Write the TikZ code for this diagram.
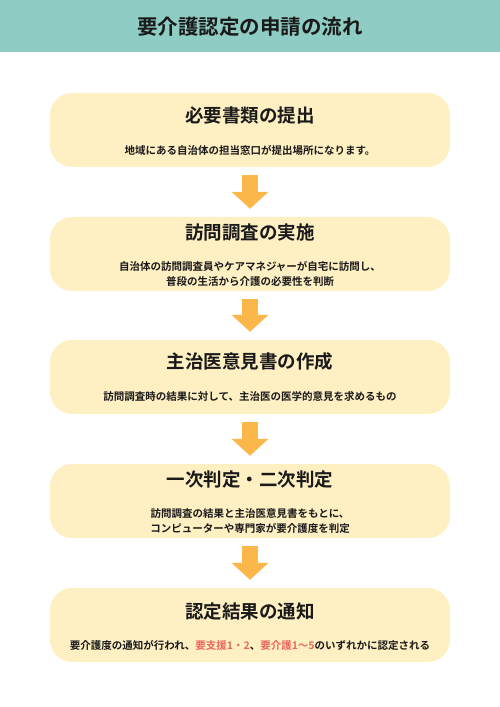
\documentclass[tikz,border=0pt]{standalone}
\usepackage{fontspec}
\setmainfont{Noto Sans CJK JP}[BoldFont={Noto Sans CJK JP Bold}]
\usetikzlibrary{calc,arrows.meta}
\definecolor{headc}{HTML}{8FCDC4}
\definecolor{boxc}{HTML}{FFF0C4}
\definecolor{arrowc}{HTML}{FBB74A}
\definecolor{redc}{HTML}{E9675C}
\definecolor{textc}{HTML}{1A1A1A}
\tikzset{
  stepbox/.style={fill=boxc, rounded corners=22pt, minimum width=400pt, minimum height=74pt, inner sep=0pt},
  steptitle/.style={font=\fontsize{18.5}{22}\selectfont\bfseries, text=textc, inner sep=0pt},
  stepnote/.style={font=\fontsize{10.5}{15}\selectfont\bfseries, text=textc, align=center, inner sep=0pt},
  flow/.style={draw=arrowc, line width=16pt, -{Triangle[width=36pt,length=17pt]}}
}
\begin{document}
\begin{tikzpicture}[x=1pt,y=1pt]
            \useasboundingbox (0,0) rectangle (500,707);
            \fill[headc] (0,655) rectangle (500,707);
            \node[font=\fontsize{20.5}{24}\selectfont\bfseries, text=textc, inner sep=0pt] (title) at (250,680) {要介護認定の申請の流れ};
            % steps
            \node[stepbox] (box1) at (250,577) {};
            \node[stepbox] (box2) at (250,453) {};
            \node[stepbox] (box3) at (250,330) {};
            \node[stepbox] (box4) at (250,206) {};
            \node[stepbox] (box5) at (250,82) {};
            \node[steptitle] (t1) at ($(box1.north)+(0,-23)$) {必要書類の提出};
            \node[stepnote] (n1) at ($(box1.north)+(0,-58)$) {地域にある自治体の担当窓口が提出場所になります。};
            \node[steptitle] (t2) at ($(box2.north)+(0,-16)$) {訪問調査の実施};
            \node[stepnote] (n2) at ($(box2.north)+(0,-57.5)$) {自治体の訪問調査員やケアマネジャーが自宅に訪問し、\\普段の生活から介護の必要性を判断};
            \node[steptitle] (t3) at ($(box3.north)+(0,-22)$) {主治医意見書の作成};
            \node[stepnote] (n3) at ($(box3.north)+(0,-57)$) {訪問調査時の結果に対して、主治医の医学的意見を求めるもの};
            \node[steptitle] (t4) at ($(box4.north)+(0,-16)$) {一次判定・二次判定};
            \node[stepnote] (n4) at ($(box4.north)+(0,-57)$) {訪問調査の結果と主治医意見書をもとに、\\コンピューターや専門家が要介護度を判定};
            \node[steptitle] (t5) at ($(box5.north)+(0,-24)$) {認定結果の通知};
            \node[stepnote] (n5) at ($(box5.north)+(0,-58)$) {要介護度の通知が行われ、\textcolor{redc}{要支援1・2}、\textcolor{redc}{要介護1～5}のいずれかに認定される};
            % arrows
            \draw[flow] ($(box1.south)+(0,-8)$) -- ($(box2.north)+(0,8)$);
            \draw[flow] ($(box2.south)+(0,-8)$) -- ($(box3.north)+(0,8)$);
            \draw[flow] ($(box3.south)+(0,-8)$) -- ($(box4.north)+(0,8)$);
            \draw[flow] ($(box4.south)+(0,-8)$) -- ($(box5.north)+(0,8)$);
        \end{tikzpicture}
\end{document}
